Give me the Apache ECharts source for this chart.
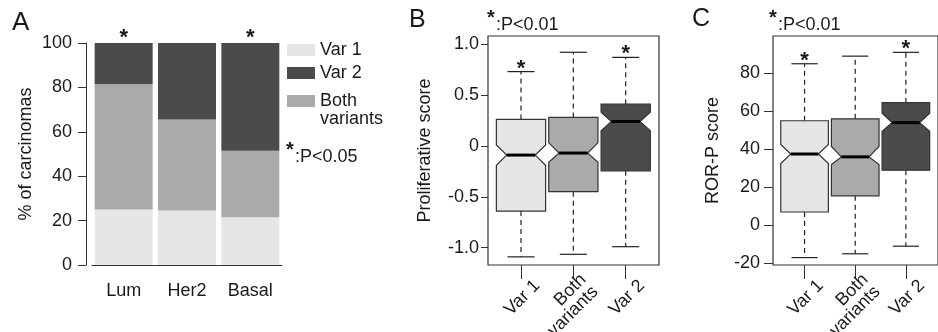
<!DOCTYPE html>
<html>
<head>
<meta charset="utf-8">
<script src="https://cdn.jsdelivr.net/npm/echarts@6.0.0/dist/echarts.min.js"></script>
<style>
  html, body { margin: 0; padding: 0; background: #fff; }
  #chart { width: 938px; height: 332px; }
</style>
</head>
<body>
<div id="chart"></div>
<script>
// panel A: subtype composition (% of carcinomas)
const subtypes = ['Lum', 'Her2', 'Basal']
const pctVar1 = [25, 24.5, 21.5]
const pctBoth = [56.5, 41, 30]
const pctVar2 = [18.5, 34.5, 48.5]
const subtypeStars = ['*', '', '*']

// panels B and C: notched boxplots per variant group
const groups = ['Var 1', 'Both\nvariants', 'Var 2']
const groupStars = [1, 0, 1]

const profLower = [-1.09, -1.065, -0.99]
const profQ1 = [-0.64, -0.45, -0.245]
const profNotchLo = [-0.19, -0.16, 0.15]
const profMedian = [-0.09, -0.07, 0.24]
const profNotchHi = [0.01, 0.03, 0.33]
const profQ3 = [0.26, 0.28, 0.41]
const profUpper = [0.73, 0.92, 0.87]
const profTicks = [-1, -0.5, 0, 0.5, 1]
const profTickLabels = ['-1.0', '-0.5', '0', '0.5', '1.0']

const rorLower = [-17, -15, -11]
const rorQ1 = [7, 15.5, 29]
const rorNotchLo = [32.5, 32, 49.5]
const rorMedian = [37.5, 36, 54]
const rorNotchHi = [42.5, 41.5, 59]
const rorQ3 = [55, 56, 64.5]
const rorUpper = [85, 89, 91]
const rorTicks = [-20, 0, 20, 40, 60, 80]
const rorTickLabels = ['-20', '0', '20', '40', '60', '80']

const FONT = "'Liberation Sans', Arial, Helvetica, sans-serif"
const INK = '#1a1a1a'
const fills = ['#e6e6e6', '#aaaaaa', '#4b4b4b']
const BOX_W = 0.94

const PROF_MIN = -1.17, PROF_MAX = 1.08
const ROR_MIN = -20.9, ROR_MAX = 99.6

function boxRows(lower, q1, nLo, med, nHi, q3, upper) {
  return groups.map((g, i) => [i + 1, lower[i], q1[i], nLo[i], med[i], nHi[i], q3[i], upper[i], groupStars[i]])
}

function notchedBox(params, api) {
  const i = params.dataIndex
  const x = api.value(0)
  const [lower, q1, nLo, med, nHi, q3, upper, star] = [1, 2, 3, 4, 5, 6, 7, 8].map((k) => api.value(k))
  const hw = BOX_W / 2
  const ins = hw * 0.42
  const cap = hw * 0.55
  const c = (dx, y) => api.coord([x + dx, y])
  const seg = (a, b, style) => ({
    type: 'line',
    shape: { x1: a[0], y1: a[1], x2: b[0], y2: b[1] },
    style: Object.assign({ stroke: '#222', lineWidth: 1.2 }, style),
  })
  const pts = [
    c(-hw, q3), c(hw, q3), c(hw, nHi), c(hw - ins, med), c(hw, nLo),
    c(hw, q1), c(-hw, q1), c(-hw, nLo), c(-hw + ins, med), c(-hw, nHi),
  ]
  const top = c(0, upper)
  const children = [
    seg(c(0, q3), top, { lineDash: [5, 4] }),
    seg(c(0, q1), c(0, lower), { lineDash: [5, 4] }),
    seg(c(-cap, upper), c(cap, upper)),
    seg(c(-cap, lower), c(cap, lower)),
    { type: 'polygon', shape: { points: pts }, style: { fill: fills[i], stroke: '#333', lineWidth: 1.2 } },
    seg(c(-hw + ins, med), c(hw - ins, med), { stroke: '#000', lineWidth: 3 }),
  ]
  if (star) {
    children.push({
      type: 'text', x: top[0], y: top[1] - 3,
      style: { text: '*', align: 'center', verticalAlign: 'middle', font: `bold 22px ${FONT}`, fill: INK },
    })
  }
  return { type: 'group', children }
}

function groupLabels(yMin) {
  return function (params, api) {
    const p = api.coord([api.value(0), yMin])
    return {
      type: 'text', x: p[0] + 16, y: p[1] + 18, rotation: Math.PI / 4,
      style: { text: groups[params.dataIndex], align: 'right', verticalAlign: 'middle', font: `18px ${FONT}`, lineHeight: 17, fill: INK },
    }
  }
}

const labelStyle = { fontFamily: FONT, fontSize: 18, color: INK }
const lineStyle = { color: '#333', width: 1 }

const option = {
  animation: false,
  textStyle: { fontFamily: FONT },
  grid: [
    { left: 92, top: 43, width: 190, height: 222 },
    { left: 488, top: 36, width: 171, height: 229, show: true, borderColor: '#333', borderWidth: 1.2 },
    { left: 773, top: 36, width: 171, height: 229, show: true, borderColor: '#333', borderWidth: 1.2 },
  ],
  legend: [
    {
      data: ['Var 1', 'Var 2'], orient: 'vertical', left: 287, top: 41, padding: 0, itemGap: 5,
      itemWidth: 28, itemHeight: 12, icon: 'rect', selectedMode: false,
      textStyle: Object.assign({ lineHeight: 18 }, labelStyle),
    },
    {
      data: ['Both variants'], orient: 'vertical', left: 287, top: 74, padding: 0,
      itemWidth: 28, itemHeight: 12, icon: 'rect', selectedMode: false,
      formatter: () => '\nBoth\nvariants',
      textStyle: Object.assign({ lineHeight: 18 }, labelStyle),
    },
  ],
  graphic: [
    { type: 'text', left: 12, top: 10, style: { text: 'A', font: `26px ${FONT}`, fill: INK } },
    { type: 'text', left: 409, top: 8, style: { text: 'B', font: `25px ${FONT}`, fill: INK } },
    { type: 'text', left: 692, top: 7, style: { text: 'C', font: `25px ${FONT}`, fill: INK } },
    { type: 'text', left: 286, top: 140, style: { text: '*', font: `bold 20px ${FONT}`, fill: INK } },
    { type: 'text', left: 295, top: 148, style: { text: ':P<0.05', font: `18px ${FONT}`, fill: INK } },
    { type: 'text', left: 487, top: 8, style: { text: '*', font: `bold 20px ${FONT}`, fill: INK } },
    { type: 'text', left: 496, top: 16, style: { text: ':P<0.01', font: `18px ${FONT}`, fill: INK } },
    { type: 'text', left: 769, top: 8, style: { text: '*', font: `bold 20px ${FONT}`, fill: INK } },
    { type: 'text', left: 778, top: 16, style: { text: ':P<0.01', font: `18px ${FONT}`, fill: INK } },
  ],
  xAxis: [
    {
      gridIndex: 0, type: 'category', data: subtypes,
      axisLine: { lineStyle },
      axisTick: { alignWithLabel: true, length: 13, lineStyle },
      axisLabel: Object.assign({ margin: 17 }, labelStyle),
    },
    {
      gridIndex: 1, type: 'value', min: 0.37, max: 3.636,
      axisLine: { show: false, onZero: false }, splitLine: { show: false },
      axisTick: { show: true, customValues: [1, 2, 3], length: 14, lineStyle },
      axisLabel: { show: false },
    },
    {
      gridIndex: 2, type: 'value', min: 0.377, max: 3.634,
      axisLine: { show: false, onZero: false }, splitLine: { show: false },
      axisTick: { show: true, customValues: [1, 2, 3], length: 14, lineStyle },
      axisLabel: { show: false },
    },
  ],
  yAxis: [
    {
      gridIndex: 0, type: 'value', min: 0, max: 100, interval: 20, offset: 6,
      axisLine: { show: true, lineStyle }, axisTick: { show: true, length: 8, lineStyle },
      splitLine: { show: false },
      axisLabel: Object.assign({ margin: 14 }, labelStyle),
      name: '% of carcinomas', nameLocation: 'middle', nameGap: 51, nameTextStyle: labelStyle,
    },
    {
      gridIndex: 1, type: 'value', min: PROF_MIN, max: PROF_MAX,
      axisLine: { show: false, onZero: false }, splitLine: { show: false },
      axisTick: { show: true, customValues: profTicks, length: 7, lineStyle },
      axisLabel: Object.assign({
        customValues: profTicks, margin: 9,
        formatter: (v) => profTickLabels[profTicks.findIndex((t) => Math.abs(t - v) < 1e-9)],
      }, labelStyle),
      name: 'Proliferative score', nameLocation: 'middle', nameGap: 54, nameTextStyle: labelStyle,
    },
    {
      gridIndex: 2, type: 'value', min: ROR_MIN, max: ROR_MAX,
      axisLine: { show: false, onZero: false }, splitLine: { show: false },
      axisTick: { show: true, customValues: rorTicks, length: 9, lineStyle },
      axisLabel: Object.assign({
        customValues: rorTicks, margin: 13,
        formatter: (v) => rorTickLabels[rorTicks.findIndex((t) => Math.abs(t - v) < 1e-9)],
      }, labelStyle),
      name: 'ROR-P score', nameLocation: 'middle', nameGap: 51, nameTextStyle: labelStyle,
    },
  ],
  series: [
    { name: 'Var 1', type: 'bar', stack: 'a', xAxisIndex: 0, yAxisIndex: 0, barWidth: 58, data: pctVar1, itemStyle: { color: fills[0] } },
    { name: 'Both variants', type: 'bar', stack: 'a', xAxisIndex: 0, yAxisIndex: 0, barWidth: 58, data: pctBoth, itemStyle: { color: fills[1] } },
    {
      name: 'Var 2', type: 'bar', stack: 'a', xAxisIndex: 0, yAxisIndex: 0, barWidth: 58, data: pctVar2,
      itemStyle: { color: fills[2] },
      label: {
        show: true, position: 'top', distance: 0, offset: [0, 6],
        formatter: (p) => subtypeStars[p.dataIndex],
        fontFamily: FONT, fontSize: 22, fontWeight: 'bold', lineHeight: 22, color: INK,
      },
    },
    {
      name: 'Proliferative', type: 'custom', xAxisIndex: 1, yAxisIndex: 1,
      data: boxRows(profLower, profQ1, profNotchLo, profMedian, profNotchHi, profQ3, profUpper),
      encode: { x: 0, y: [1, 7] }, renderItem: notchedBox, silent: true,
    },
    {
      name: 'Proliferative labels', type: 'custom', xAxisIndex: 1, yAxisIndex: 1,
      data: groups.map((g, i) => [i + 1]), encode: { x: 0 }, renderItem: groupLabels(PROF_MIN), silent: true,
    },
    {
      name: 'ROR-P', type: 'custom', xAxisIndex: 2, yAxisIndex: 2,
      data: boxRows(rorLower, rorQ1, rorNotchLo, rorMedian, rorNotchHi, rorQ3, rorUpper),
      encode: { x: 0, y: [1, 7] }, renderItem: notchedBox, silent: true,
    },
    {
      name: 'ROR-P labels', type: 'custom', xAxisIndex: 2, yAxisIndex: 2,
      data: groups.map((g, i) => [i + 1]), encode: { x: 0 }, renderItem: groupLabels(ROR_MIN), silent: true,
    },
  ],
}

const chart = echarts.init(document.getElementById('chart'), null, { renderer: 'canvas' })
chart.setOption(option)
window.addEventListener('resize', () => chart.resize())
</script>
</body>
</html>
